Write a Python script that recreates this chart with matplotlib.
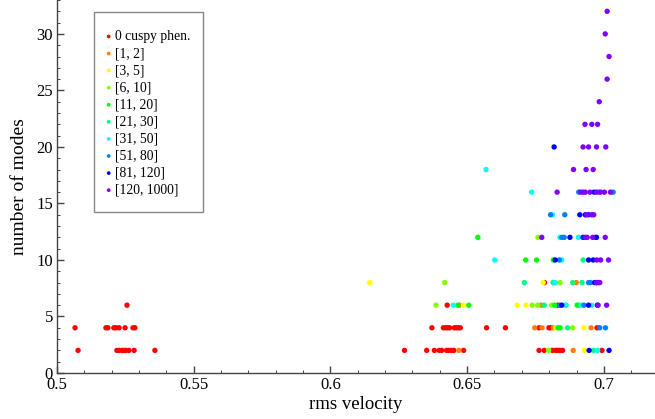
import matplotlib
matplotlib.use("Agg")
import matplotlib.pyplot as plt
from matplotlib.ticker import MultipleLocator
from matplotlib.patches import Rectangle

plt.rcParams['font.family'] = ['Liberation Serif', 'DejaVu Serif']

labels = ["0 cuspy phen.", "[1, 2]", "[3, 5]", "[6, 10]", "[11, 20]", "[21, 30]",
          "[31, 50]", "[51, 80]", "[81, 120]", "[120, 1000]"]
colors = ["#ff0000", "#ff8000", "#ffff00", "#80ff00", "#00ff00", "#00ff80",
          "#00ffff", "#0080ff", "#0000ff", "#8000ff"]

red_x = [0.5066, 0.5077, 0.5179, 0.5186, 0.5208, 0.5216, 0.5227, 0.5249, 0.5278, 0.5285,
         0.5219, 0.5227, 0.5238, 0.5245, 0.5252, 0.5263, 0.5282, 0.5358, 0.5256,
         0.6427, 0.6371, 0.6413, 0.6422, 0.6429, 0.6436, 0.6453, 0.6460, 0.6468, 0.6475,
         0.6571, 0.6640, 0.6271, 0.6352, 0.6380, 0.6398, 0.6407, 0.6425, 0.6433, 0.6443,
         0.6451, 0.6487, 0.6783, 0.6831, 0.6763, 0.6799, 0.6805, 0.6975,
         0.6763, 0.6782, 0.6812, 0.6824, 0.6831, 0.6839, 0.6849, 0.6993]
red_y = [4, 2, 4, 4, 4, 4, 4, 4, 4, 4,
         2, 2, 2, 2, 2, 2, 2, 2, 6,
         6, 4, 4, 4, 4, 4, 4, 4, 4, 4,
         4, 4, 2, 2, 2, 2, 2, 2, 2, 2,
         2, 2, 8, 6, 4, 4, 4, 4,
         2, 2, 2, 2, 2, 2, 2, 2]

orange_x = [0.6472, 0.6771, 0.6747, 0.6774, 0.6815, 0.6953, 0.6470, 0.6888, 0.6899]
orange_y = [6, 6, 4, 4, 4, 4, 2, 2, 8]

yellow_x = [0.6144, 0.6778, 0.6487, 0.6683, 0.6715, 0.6824, 0.6927, 0.6929]
yellow_y = [8, 8, 6, 6, 6, 4, 4, 2]

lime_x = [0.6418, 0.6840, 0.6386, 0.6738, 0.6758, 0.6809, 0.6886, 0.6798, 0.6759]
lime_y = [8, 8, 6, 6, 6, 6, 4, 2, 12]

green_x = [0.6506, 0.6466, 0.6820, 0.6902, 0.6907, 0.6832, 0.6840, 0.6714, 0.6754, 0.6815, 0.6539]
green_y = [6, 6, 6, 6, 6, 4, 4, 10, 10, 10, 12]

spring_x = [0.6924, 0.6709, 0.6814, 0.6886, 0.6920, 0.6782, 0.6862, 0.6867, 0.6962]
spring_y = [10, 8, 8, 8, 8, 6, 6, 4, 2]

cyan_x = [0.6569, 0.6601, 0.6846, 0.6736, 0.6812, 0.6839, 0.6907, 0.6822,
          0.6449, 0.6859, 0.6917, 0.6955, 0.6977]
cyan_y = [18, 10, 10, 16, 14, 12, 12, 8, 6, 6, 6, 6, 2]

azure_x = [0.6908, 0.6981, 0.7034, 0.6805, 0.6857, 0.6846, 0.6855, 0.6967, 0.6837,
           0.6944, 0.6951, 0.6839, 0.6927, 0.6985, 0.7006]
azure_y = [16, 16, 16, 14, 14, 12, 12, 12, 10, 8, 8, 6, 6, 4, 4]

blue_x = [0.6818, 0.6964, 0.6912, 0.6932, 0.6944, 0.6876, 0.6924, 0.6973,
          0.6822, 0.6944, 0.6961, 0.6966, 0.6981, 0.6973, 0.6846, 0.6944, 0.6976,
          0.6946, 0.7019]
blue_y = [20, 16, 14, 14, 14, 12, 12, 12, 10, 10, 10, 8, 8, 8, 6, 6, 6, 2, 2]

violet_x = [0.7012, 0.7005, 0.7019, 0.7012, 0.6983, 0.6931, 0.6956, 0.6977,
            0.6924, 0.6944, 0.6973, 0.7007, 0.6889, 0.6935, 0.6961,
            0.6829, 0.6915, 0.6924, 0.6932, 0.6949, 0.6973, 0.6988, 0.7002, 0.7024,
            0.6937, 0.6956, 0.6963, 0.6773, 0.6932, 0.6939, 0.6959, 0.7005,
            0.6974, 0.6988, 0.7017, 0.6973, 0.6985, 0.6979, 0.7010]
violet_y = [32, 30, 28, 26, 24, 22, 22, 22,
            20, 20, 20, 20, 18, 18, 18,
            16, 16, 16, 16, 16, 16, 16, 16, 16,
            14, 14, 14, 12, 12, 12, 12, 12,
            10, 10, 10, 8, 8, 6, 6]

series = [(red_x, red_y), (orange_x, orange_y), (yellow_x, yellow_y), (lime_x, lime_y),
          (green_x, green_y), (spring_x, spring_y), (cyan_x, cyan_y), (azure_x, azure_y),
          (blue_x, blue_y), (violet_x, violet_y)]

W, H = 655, 419
fig = plt.figure(figsize=(W / 100, H / 100), dpi=100)
ax = fig.add_axes([57 / W, 46 / H, 598 / W, 373 / H])

for (xs, ys), c, lab in zip(series, colors, labels):
    ax.scatter(xs, ys, s=15, color=c, edgecolors='none', label=lab, zorder=3)

ax.set_xlim(0.5, 0.7187)
ax.set_ylim(0, 33.0)
ax.xaxis.set_minor_locator(MultipleLocator(0.01))
ax.yaxis.set_major_locator(MultipleLocator(5))
ax.yaxis.set_minor_locator(MultipleLocator(1))
ax.set_xticks([0.5, 0.55, 0.6, 0.65, 0.7])
ax.set_xticklabels(["0.5", "0.55", "0.6", "0.65", "0.7"])

for s in ['top', 'right']:
    ax.spines[s].set_visible(False)
for s in ['left', 'bottom']:
    ax.spines[s].set_color('#444444')
    ax.spines[s].set_linewidth(1.0)
ax.tick_params(which='major', direction='in', length=5, width=1, color='#444444',
               labelsize=12, pad=3)
ax.tick_params(which='minor', direction='in', length=2.5, width=0.7, color='#444444')

ax.set_xlabel("rms velocity", fontsize=13.5, labelpad=2)
ax.set_ylabel("number of modes", fontsize=14, labelpad=6)

# legend box frame (drawn separately for exact padding)
frame = Rectangle((94 / W, (H - 212) / H), 109 / W, 200 / H, transform=fig.transFigure,
                  facecolor='white', edgecolor='#888888', linewidth=1.0, zorder=4)
fig.patches.append(frame)

leg = fig.legend(loc='upper left', bbox_to_anchor=(106 / W, (H - 30) / H), borderaxespad=0,
                 fontsize=9.8, frameon=False, markerscale=0.7,
                 handletextpad=0.25, labelspacing=0.30, borderpad=0.0,
                 handlelength=0.4)
leg.set_zorder(5)

fig.savefig("out.png", dpi=100)
